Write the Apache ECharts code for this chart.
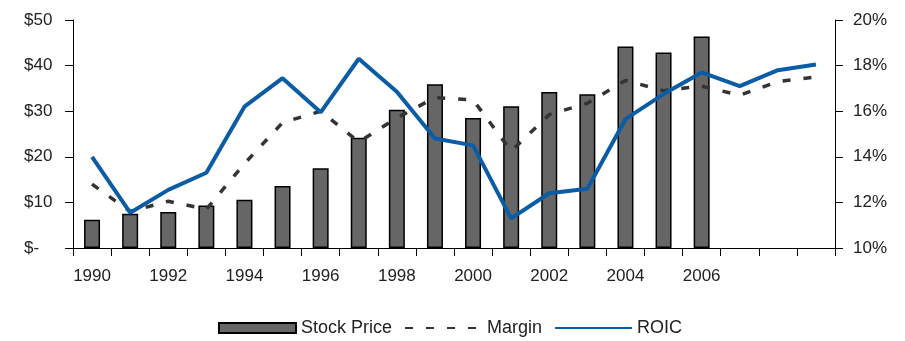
<!DOCTYPE html>
<html>
<head>
<meta charset="utf-8">
<script src="https://cdn.jsdelivr.net/npm/echarts@6/dist/echarts.min.js"></script>
<style>
  html, body { margin: 0; padding: 0; background: #fff; }
  #chart { width: 905px; height: 341px; }
</style>
</head>
<body>
<div id="chart"></div>
<script>
// Fiscal years on the category axis
const years = ['1990','1991','1992','1993','1994','1995','1996','1997','1998','1999',
               '2000','2001','2002','2003','2004','2005','2006','2007','2008','2009'];
// Years that carry a label under the axis
const labelledYears = ['1990','1992','1994','1996','1998','2000','2002','2004','2006'];

// Year-end stock price, $ (no price after 2006)
const stockPrice = [6.2, 7.5, 7.9, 9.3, 10.6, 13.6, 17.5, 24.2, 30.3, 35.9,
                    28.5, 31.1, 34.2, 33.7, 44.2, 42.9, 46.4, null, null, null];
// Operating margin, %
const margin = [12.8, 11.6, 12.05, 11.7, 13.7, 15.5, 16.0, 14.65, 15.7, 16.6,
                16.5, 14.25, 15.85, 16.35, 17.35, 16.9, 17.1, 16.7, 17.3, 17.5];
// Return on invested capital, %
const roic = [14.0, 11.55, 12.55, 13.3, 16.2, 17.45, 15.95, 18.3, 16.85, 14.8,
              14.5, 11.3, 12.4, 12.6, 15.65, 16.75, 17.7, 17.1, 17.8, 18.05];

// Left axis ($) and right axis (%) ranges
const priceTicks = { min: 0, max: 50, interval: 10 };
const pctTicks = { min: 10, max: 20, interval: 2 };

const FONT = '"Liberation Sans", Arial, sans-serif';
const TEXT = '#222';
const AXIS_FS = 17;

const chart = echarts.init(document.getElementById('chart'), null, { renderer: 'canvas' });

chart.setOption({
  animation: false,
  textStyle: { fontFamily: FONT },
  grid: { left: 73, right: 70, top: 20, bottom: 93, containLabel: false },
  legend: {
    left: 213,
    top: 314,
    itemWidth: 77,
    itemHeight: 10,
    itemGap: 12,
    textStyle: { fontFamily: FONT, fontSize: 18, color: TEXT },
    data: [
      { name: 'Stock Price', icon: 'rect' },
      { name: 'Margin', itemStyle: { opacity: 0 } },
      { name: 'ROIC', itemStyle: { opacity: 0 } }
    ]
  },
  xAxis: {
    type: 'category',
    data: years,
    boundaryGap: true,
    axisLine: { lineStyle: { color: '#000', width: 1 } },
    axisTick: { show: true, interval: 0, length: 8, inside: false, lineStyle: { color: '#000' } },
    axisLabel: {
      interval: 0,
      margin: 20,
      fontSize: AXIS_FS,
      color: TEXT,
      fontFamily: FONT,
      formatter: v => labelledYears.includes(v) ? v : ''
    },
    splitLine: { show: false }
  },
  yAxis: [
    {
      type: 'value',
      position: 'left',
      min: priceTicks.min, max: priceTicks.max, interval: priceTicks.interval,
      axisLine: { show: true, lineStyle: { color: '#000', width: 1 } },
      axisTick: { show: true, length: 8, lineStyle: { color: '#000' } },
      axisLabel: {
        margin: 49,
        align: 'left',
        fontSize: AXIS_FS,
        color: TEXT,
        fontFamily: FONT,
        formatter: v => v === 0 ? '$-' : '$' + v
      },
      splitLine: { show: false }
    },
    {
      type: 'value',
      position: 'right',
      min: pctTicks.min, max: pctTicks.max, interval: pctTicks.interval,
      axisLine: { show: true, lineStyle: { color: '#000', width: 1 } },
      axisTick: { show: true, length: 8, lineStyle: { color: '#000' } },
      axisLabel: {
        margin: 18,
        fontSize: AXIS_FS,
        color: TEXT,
        fontFamily: FONT,
        formatter: v => v + '%'
      },
      splitLine: { show: false }
    }
  ],
  series: [
    {
      name: 'Stock Price',
      type: 'bar',
      yAxisIndex: 0,
      data: stockPrice,
      barWidth: 16,
      itemStyle: { color: '#666666', borderColor: '#000', borderWidth: 1.5 },
      z: 2
    },
    {
      name: 'Margin',
      type: 'line',
      yAxisIndex: 1,
      data: margin,
      symbol: 'none',
      lineStyle: { color: '#333333', width: 3.5, type: [8, 13] },
      itemStyle: { color: '#333333' },
      z: 3
    },
    {
      name: 'ROIC',
      type: 'line',
      yAxisIndex: 1,
      data: roic,
      symbol: 'none',
      lineStyle: { color: '#0B5CA6', width: 4 },
      itemStyle: { color: '#0B5CA6' },
      z: 4
    }
  ]
});
</script>
</body>
</html>
